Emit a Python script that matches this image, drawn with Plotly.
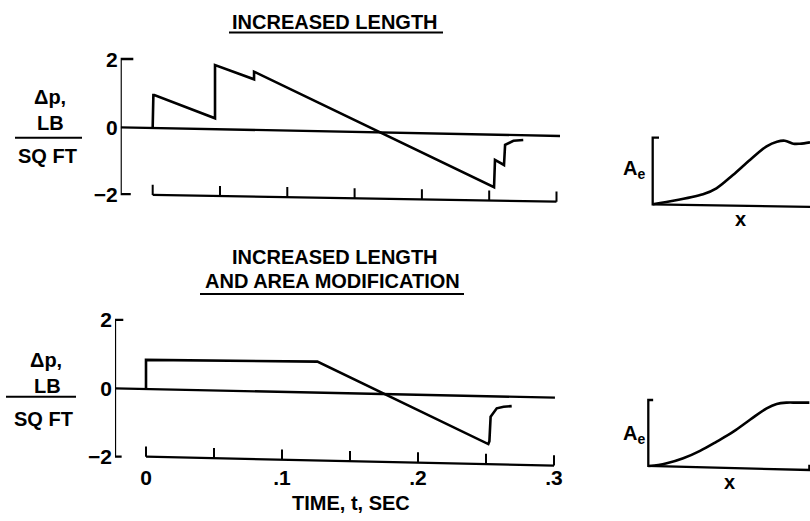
import numpy as np
import plotly.graph_objects as go

W, H = 810, 521

# ---------------- data ----------------
# Increased length: pressure signature, dp (lb/sq ft) vs time (sec)
t_len = [0.0, 0.0005, 0.0012, 0.0463, 0.0463, 0.0753, 0.0753, 0.2536, 0.2543, 0.2610, 0.2618, 0.2680, 0.2753]
dp_len = [0.0, 0.956, 0.956, 0.266, 1.84, 1.42, 1.645, -1.775, -0.967, -1.115, -0.52, -0.40, -0.376]

# Increased length and area modification
t_mod = [0.0, 0.0, 0.126, 0.2517, 0.2525, 0.2534, 0.2579, 0.2630, 0.2689]
dp_mod = [0.0, 0.83, 0.78, -1.63, -1.55, -0.83, -0.585, -0.54, -0.52]

# zero reference lines (end points)
zero_len_t = [-0.0238, 0.3026]
zero_len_dp = [0.0, -0.257]
zero_mod_t = [-0.0228, 0.3007]
zero_mod_dp = [0.0, -0.275]

# time-axis lines (end points)
taxis_len_t = [0.0, 0.300]
taxis_len_dp = [-2.0, -2.2]
taxis_mod_t = [0.0, 0.300]
taxis_mod_dp = [-2.0, -2.26]

# ticks
x_ticks = [0.0, 0.05, 0.10, 0.15, 0.20, 0.25, 0.30]
x_label_vals = [0.0, 0.1, 0.2, 0.3]
x_tick_labels = ["0", ".1", ".2", ".3"]
y_ticks = [-2, 0, 2]
y_tick_labels = ["\u22122", "0", "2"]

# effective area distributions (normalized)
x_ae_len = [0.0, 0.087, 0.32, 0.405, 0.51, 0.62, 0.724, 0.79, 0.84, 0.894, 0.936, 1.0]
ae_len = [0.0, 0.035, 0.15, 0.24, 0.44, 0.67, 0.87, 0.94, 0.955, 0.91, 0.91, 0.93]
x_ae_mod = [0.0, 0.062, 0.114, 0.216, 0.32, 0.423, 0.526, 0.629, 0.732, 0.794, 0.856, 0.918, 0.996]
ae_mod = [0.0, 0.015, 0.04, 0.117, 0.23, 0.37, 0.52, 0.70, 0.874, 0.94, 0.96, 0.96, 0.96]

# ---------------- layout helpers ----------------
def xdom(origin_px, scale, r):
    return [(origin_px + r[0] * scale) / W, (origin_px + r[1] * scale) / W]

def ydom(origin_px, scale, r):
    return [1 - (origin_px - r[0] * scale) / H, 1 - (origin_px - r[1] * scale) / H]

FONT = "Liberation Sans, Arial, sans-serif"
WEIGHT = "bold"
LW = 2.6
BLACK = "black"

fig = go.Figure()

def line(x, y, xa, ya, width=LW, shape="linear"):
    fig.add_trace(go.Scatter(x=x, y=y, xaxis=xa, yaxis=ya, mode="lines",
                             line=dict(color=BLACK, width=width, shape=shape),
                             hoverinfo="skip", showlegend=False))

# ---- left panels ----
panels = [
    ("x", "y", t_len, dp_len, zero_len_t, zero_len_dp, taxis_len_t, taxis_len_dp,
     [-0.0144, -0.0238, -0.0238, -0.0163], [2.02, 2.02, -1.98, -1.98], 0.30),
    ("x2", "y2", t_mod, dp_mod, zero_mod_t, zero_mod_dp, taxis_mod_t, taxis_mod_dp,
     [-0.0167, -0.0228, -0.0228, -0.0179], [2.0, 2.0, -2.0, -2.0], 0.30),
]
for xa, ya, tt, dd, zt, zd, at, ad, bt, bd, tl in panels:
    line(zt, zd, xa, ya, width=2.3)
    line(at, ad, xa, ya, width=2.3)
    tx, ty = [], []
    for tk in x_ticks:
        base = float(np.interp(tk, at, ad))
        tx += [tk, tk, None]
        ty += [base, base + tl, None]
    line(tx, ty, xa, ya, width=2.0)
    line(bt, bd, xa, ya, width=2.3)
    line(tt, dd, xa, ya)

# ---- right panels ----
line([0.04, 0, 0, 1.0], [1.0, 1.0, 0, -0.04], "x3", "y3", width=2.3)
line(x_ae_len, ae_len, "x3", "y3", shape="spline")
line([0.03, 0, 0, 0.996, 0.996], [1.0, 1.0, 0, -0.06, 0.02], "x4", "y4", width=2.3)
line(x_ae_mod, ae_mod, "x4", "y4", shape="spline")

xr_top = [-0.0238, 0.31]
xr_bot = [-0.0228, 0.31]
yr_top = [-2.5, 2.4]
yr_bot = [-2.3, 2.4]
rr = [-0.05, 1.0]
ry = [-0.1, 1.1]

tickfont = dict(size=21, color=BLACK, family=FONT, weight=WEIGHT)
hidden = dict(showgrid=False, zeroline=False, showline=False, ticks="",
              showticklabels=False, fixedrange=True)
yax = dict(showgrid=False, zeroline=False, showline=False, ticks="",
           tickvals=y_ticks, ticktext=y_tick_labels, ticklabelstandoff=2,
           tickfont=tickfont, fixedrange=True)

fig.update_layout(
    width=W, height=H, margin=dict(l=0, r=0, t=0, b=0),
    paper_bgcolor="white", plot_bgcolor="rgba(0,0,0,0)",
    font=dict(family=FONT, color=BLACK, size=20),
    xaxis=dict(hidden, range=xr_top, domain=xdom(152.7, 1346, xr_top), anchor="y"),
    yaxis=dict(yax, range=yr_top, domain=ydom(127.3, 33.8, yr_top), anchor="x"),
    xaxis2=dict(showgrid=False, zeroline=False, showline=False, ticks="",
                tickvals=x_label_vals, ticktext=x_tick_labels, ticklabelstandoff=-4,
                tickfont=tickfont, fixedrange=True,
                range=xr_bot, domain=xdom(146.0, 1360, xr_bot), anchor="y2"),
    yaxis2=dict(yax, range=yr_bot, domain=ydom(388.3, 34.2, yr_bot), anchor="x2"),
    xaxis3=dict(hidden, range=rr, domain=xdom(652.7, 157.3, rr), anchor="y3"),
    yaxis3=dict(hidden, range=ry, domain=ydom(204.3, 66.6, ry), anchor="x3"),
    xaxis4=dict(hidden, range=rr, domain=xdom(648.3, 161.7, rr), anchor="y4"),
    yaxis4=dict(hidden, range=ry, domain=ydom(466.0, 66.0, ry), anchor="x4"),
)

def ann(text, x, y, size=20, xanchor="center"):
    fig.add_annotation(text=text, x=x / W, y=1 - y / H, xref="paper", yref="paper",
                       showarrow=False, xanchor=xanchor, yanchor="middle",
                       font=dict(size=size, color=BLACK, family=FONT, weight=WEIGHT))

def hline(x0, x1, y, width=2.2):
    fig.add_shape(type="line", xref="paper", yref="paper", x0=x0 / W, x1=x1 / W,
                  y0=1 - y / H, y1=1 - y / H, line=dict(color=BLACK, width=width))

# titles
ann("INCREASED LENGTH", 335, 21.7)
hline(229, 443, 32.5)
ann("INCREASED LENGTH", 335, 256.7)
ann("AND AREA MODIFICATION", 332, 280.7)
hline(200, 464, 294)

# y-axis labels
for dy, dx, dl in [(0, 0, (15, 82)), (263, -4, (6, 76))]:
    ann("\u0394p,", 50 + dx, 96.7 + dy)
    ann("LB", 51 + dx, 123.3 + dy)
    hline(dl[0], dl[1], 137.7 + dy - (4 if dy else 0), width=2.0)
    ann("SQ FT", 47 + dx, 155.8 + dy)

# x-axis title
ann("TIME, t, SEC", 350.7, 503, size=20)

# right panel labels
ann("A<sub>e</sub>", 634, 170)
ann("x", 740, 219)
ann("A<sub>e</sub>", 634, 434)
ann("x", 729, 482)

fig.write_html("out.html",
               config={"displayModeBar": False, "staticPlot": True},
               post_script="document.documentElement.style.margin='0';"
                           "document.body.style.margin='0';"
                           "document.body.style.overflow='hidden';")
